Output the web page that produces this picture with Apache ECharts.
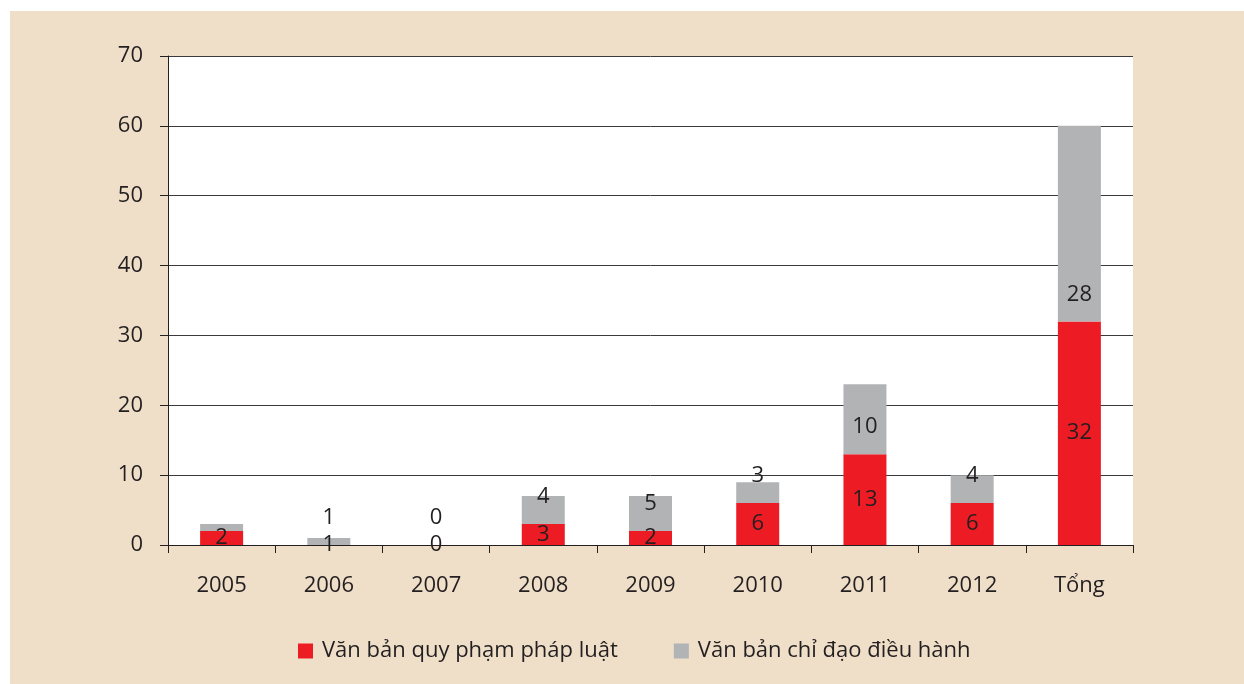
<!DOCTYPE html>
<html>
<head>
<meta charset="utf-8">
<script src="https://cdn.jsdelivr.net/npm/echarts@6/dist/echarts.min.js"></script>
<style>
	html, body { margin: 0; padding: 0; background: #fff; }
	#chart { position: absolute; left: 10px; top: 11px; width: 1234px; height: 673px; background: #efdfc9; }
</style>
</head>
<body>
<div id="chart"></div>
<script>
const categories = [ '2005', '2006', '2007', '2008', '2009', '2010', '2011', '2012', 'Tổng' ];
const legalDocs = [ 2, 0, 0, 3, 2, 6, 13, 6, 32 ];
const directiveDocs = [ 1, 1, 0, 4, 5, 3, 10, 4, 28 ];
// labels as printed in the source figure
const legalLabels = [ '2', '1', '0', '3', '2', '6', '13', '6', '32' ];
const directiveLabels = [ '', '1', '0', '4', '5', '3', '10', '4', '28' ];
const yTicks = { min: 0, max: 70, interval: 10 };

const FONT = 'Open Sans';
const TEXT = '#231f20';

const chart = echarts.init( document.getElementById( 'chart' ), null, { renderer: 'canvas' } );

chart.setOption( {
	animation: false,
	textStyle: { fontFamily: FONT, color: TEXT },
	grid: {
		left: 158, right: 111, top: 45, bottom: 139,
		show: true, backgroundColor: '#ffffff', borderWidth: 0
	},
	legend: {
		left: 283, top: 624,
		itemWidth: 15, itemHeight: 15, itemGap: 56,
		icon: 'rect',
		textStyle: { fontFamily: FONT, fontSize: 22, color: TEXT, padding: [ 0, 0, 0, 4 ] },
		data: [ 'Văn bản quy phạm pháp luật', 'Văn bản chỉ đạo điều hành' ]
	},
	xAxis: {
		type: 'category',
		data: categories,
		axisLine: { lineStyle: { color: TEXT, width: 1 } },
		axisTick: { show: true, length: 8, lineStyle: { color: TEXT } },
		axisLabel: { margin: 30, fontSize: 22, color: TEXT, fontFamily: FONT }
	},
	yAxis: {
		type: 'value',
		min: yTicks.min, max: yTicks.max, interval: yTicks.interval,
		axisLine: { show: true, lineStyle: { color: TEXT, width: 1 } },
		axisTick: { show: true, length: 8, lineStyle: { color: TEXT } },
		axisLabel: { margin: 25, fontSize: 22, color: TEXT, fontFamily: FONT },
		splitLine: { lineStyle: { color: '#3a3a3a', width: 1 } }
	},
	series: [
		{
			name: 'Văn bản quy phạm pháp luật',
			type: 'bar',
			stack: 'total',
			barWidth: 43,
			itemStyle: { color: '#ed1c24' },
			label: {
				show: true, position: 'inside', fontSize: 22, color: TEXT, fontFamily: FONT,
				formatter: p => legalLabels[ p.dataIndex ]
			},
			data: legalDocs
		},
		{
			name: 'Văn bản chỉ đạo điều hành',
			type: 'bar',
			stack: 'total',
			barWidth: 43,
			itemStyle: { color: '#b2b3b5' },
			label: {
				show: true, position: 'insideBottom', distance: 16, fontSize: 22, color: TEXT, fontFamily: FONT,
				formatter: p => directiveLabels[ p.dataIndex ]
			},
			data: directiveDocs
		}
	]
} );
</script>
</body>
</html>
